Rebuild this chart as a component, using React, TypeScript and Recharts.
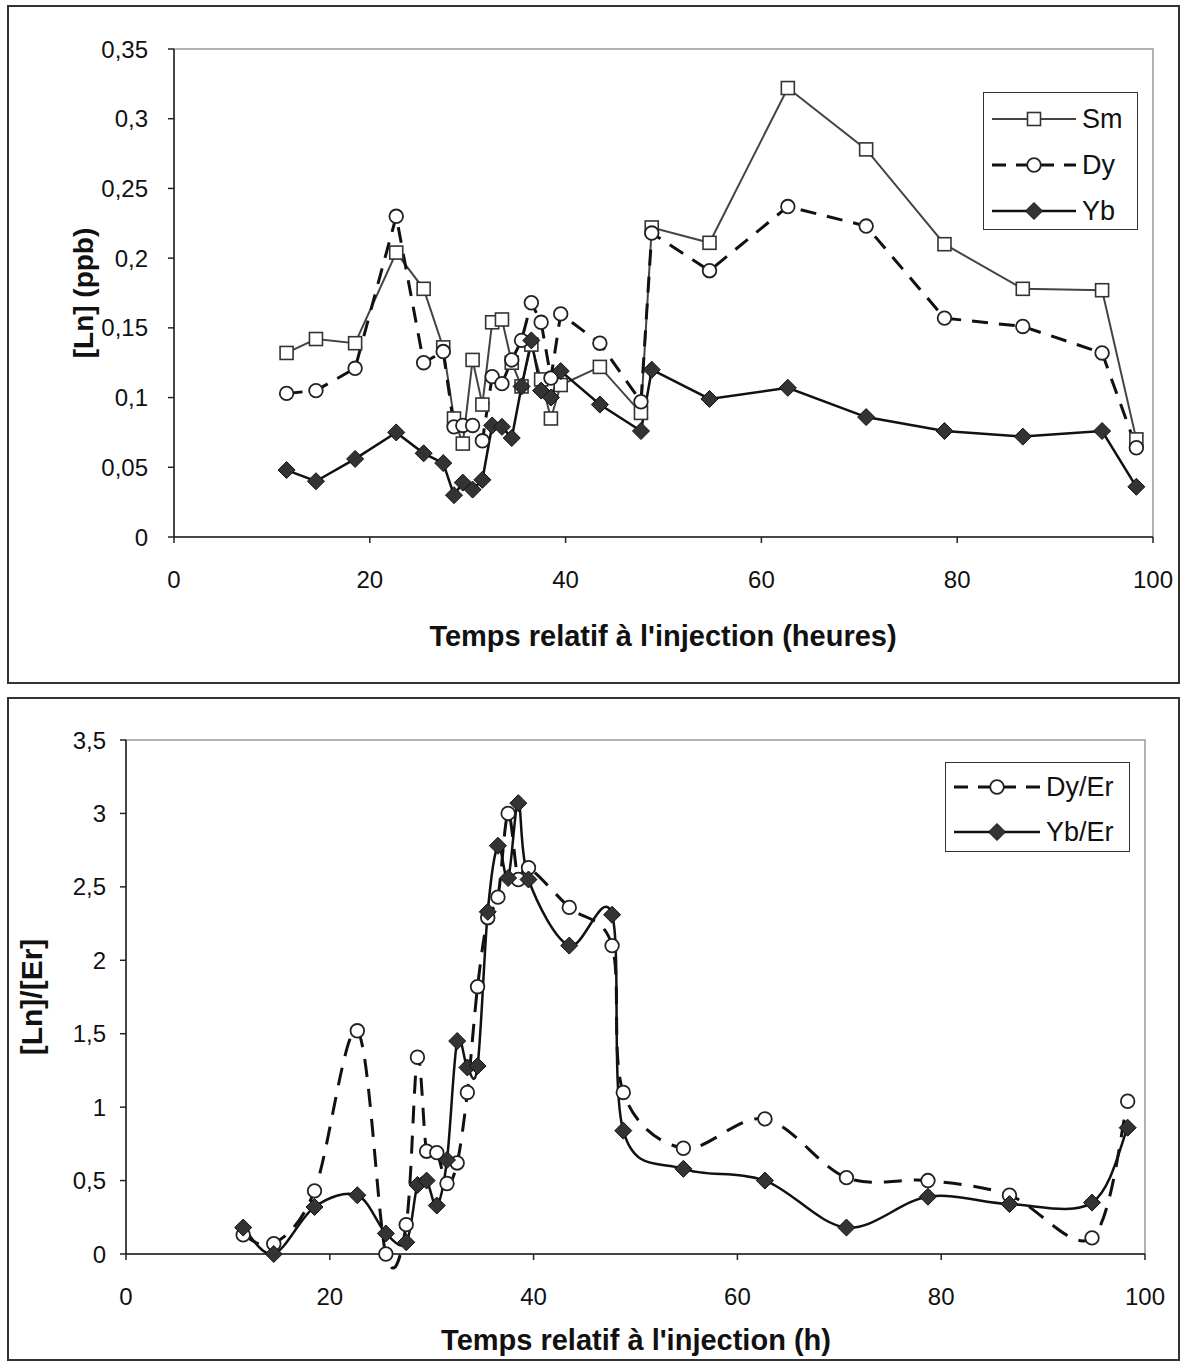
import React from "react";
import { LineChart, Line, XAxis, YAxis, ReferenceArea } from "recharts";

// sampling times (hours after injection)
const times = [
  11.5, 14.5, 18.5, 22.7, 25.5, 27.5, 28.6, 29.5, 30.5, 31.5, 32.5, 33.5, 34.5, 35.5,
  36.5, 37.5, 38.5, 39.5, 43.5, 47.7, 48.8, 54.7, 62.7, 70.7, 78.7, 86.7, 94.8, 98.3,
];

// top panel, ppb
const sm = [
  0.132, 0.142, 0.139, 0.204, 0.178, 0.136, 0.085, 0.067, 0.127, 0.095, 0.154, 0.156, 0.125, 0.108,
  0.138, 0.113, 0.085, 0.109, 0.122, 0.089, 0.222, 0.211, 0.322, 0.278, 0.21, 0.178, 0.177, 0.07,
];
const dy = [
  0.103, 0.105, 0.121, 0.23, 0.125, 0.133, 0.079, 0.08, 0.08, 0.069, 0.115, 0.11, 0.127, 0.141,
  0.168, 0.154, 0.114, 0.16, 0.139, 0.097, 0.218, 0.191, 0.237, 0.223, 0.157, 0.151, 0.132, 0.064,
];
const yb = [
  0.048, 0.04, 0.056, 0.075, 0.06, 0.053, 0.03, 0.039, 0.034, 0.041, 0.08, 0.079, 0.071, 0.108,
  0.141, 0.105, 0.1, 0.119, 0.095, 0.076, 0.12, 0.099, 0.107, 0.086, 0.076, 0.072, 0.076, 0.036,
];

// bottom panel, ratios to Er
const dyEr = [
  0.13, 0.07, 0.43, 1.52, 0.0, 0.2, 1.34, 0.7, 0.69, 0.48, 0.62, 1.1, 1.82, 2.29,
  2.43, 3.0, 2.55, 2.63, 2.36, 2.1, 1.1, 0.72, 0.92, 0.52, 0.5, 0.4, 0.11, 1.04,
];
const ybEr = [
  0.18, 0.0, 0.32, 0.4, 0.14, 0.08, 0.47, 0.5, 0.33, 0.64, 1.45, 1.27, 1.28, 2.33,
  2.78, 2.56, 3.07, 2.55, 2.1, 2.31, 0.84, 0.58, 0.5, 0.18, 0.39, 0.34, 0.35, 0.86,
];

const xTicks = [0, 20, 40, 60, 80, 100];
const topYTicks = [0, 0.05, 0.1, 0.15, 0.2, 0.25, 0.3, 0.35];
const bottomYTicks = [0, 0.5, 1, 1.5, 2, 2.5, 3, 3.5];

const topRows = times.map((t, i) => ({ t, sm: sm[i], dy: dy[i], yb: yb[i] }));
const bottomRows = times.map((t, i) => ({ t, dyEr: dyEr[i], ybEr: ybEr[i] }));

const FONT = "'Liberation Sans', Arial, sans-serif";
const comma = (v: number) => String(v).replace(".", ",");

// excel-like smoothing (catmull-rom through the points)
const smooth: any = (ctx: any) => {
  let pts: number[][] = [];
  return {
    areaStart() {},
    areaEnd() {},
    lineStart() {
      pts = [];
    },
    lineEnd() {
      const n = pts.length;
      if (!n) return;
      ctx.moveTo(pts[0][0], pts[0][1]);
      for (let i = 0; i < n - 1; i++) {
        const p0 = pts[i - 1] || pts[i];
        const p1 = pts[i];
        const p2 = pts[i + 1];
        const p3 = pts[i + 2] || p2;
        ctx.bezierCurveTo(
          p1[0] + (p2[0] - p0[0]) / 6,
          p1[1] + (p2[1] - p0[1]) / 6,
          p2[0] - (p3[0] - p1[0]) / 6,
          p2[1] - (p3[1] - p1[1]) / 6,
          p2[0],
          p2[1]
        );
      }
    },
    point(x: number, y: number) {
      pts.push([+x, +y]);
    },
  };
};

function Marker({ kind, cx, cy }: { kind: string; cx: number; cy: number }) {
  if (kind === "square")
    return <rect x={cx - 6.5} y={cy - 6.5} width={13} height={13} fill="#fff" stroke="#333" strokeWidth={1.6} />;
  if (kind === "circle") return <circle cx={cx} cy={cy} r={6.8} fill="#fff" stroke="#222" strokeWidth={1.8} />;
  return (
    <path
      d={`M${cx},${cy - 8.5}L${cx + 8.5},${cy}L${cx},${cy + 8.5}L${cx - 8.5},${cy}Z`}
      fill="#333"
      stroke="#111"
      strokeWidth={1}
    />
  );
}

const dotOf = (kind: string) => (props: any) => {
  const { cx, cy, index } = props;
  if (cx == null || cy == null) return <g key={index} />;
  return (
    <g key={index}>
      <Marker kind={kind} cx={cx} cy={cy} />
    </g>
  );
};

type LegendItem = { label: string; kind: string; stroke: string; width: number; dash?: string };

function LegendBox(props: {
  left: number;
  top: number;
  width: number;
  height: number;
  rowH: number;
  firstY: number;
  lineW: number;
  items: LegendItem[];
}) {
  const { left, top, width, height, rowH, firstY, lineW, items } = props;
  return (
    <div
      style={{
        position: "absolute",
        left,
        top,
        width,
        height,
        border: "1.5px solid #333",
        background: "#fff",
        boxSizing: "border-box",
      }}
    >
      {items.map((it, i) => (
        <div
          key={it.label}
          style={{
            position: "absolute",
            left: 8,
            top: firstY + i * rowH - 16,
            height: 32,
            display: "flex",
            alignItems: "center",
          }}
        >
          <svg width={lineW} height={24}>
            <line x1={0} x2={lineW} y1={12} y2={12} stroke={it.stroke} strokeWidth={it.width} strokeDasharray={it.dash} />
            <Marker kind={it.kind} cx={lineW / 2} cy={12} />
          </svg>
          <span style={{ fontSize: 27, marginLeft: 6, color: "#111" }}>{it.label}</span>
        </div>
      ))}
    </div>
  );
}

const frame = (top: number, height: number): React.CSSProperties => ({
  position: "absolute",
  left: 7,
  top,
  width: 1173,
  height,
  border: "2px solid #333",
  boxSizing: "border-box",
});

const title = (x: number, y: number, size: number, rotate = false): React.CSSProperties => ({
  position: "absolute",
  left: x,
  top: y,
  transform: `translate(-50%, -50%)${rotate ? " rotate(-90deg)" : ""}`,
  fontSize: size,
  fontWeight: "bold",
  whiteSpace: "nowrap",
  color: "#111",
});

const tickStyle = { fontSize: 24, fill: "#111", fontFamily: FONT };

export default function App() {
  return (
    <div
      style={{
        position: "absolute",
        left: 0,
        top: 0,
        width: 1185,
        height: 1367,
        background: "#fff",
        fontFamily: FONT,
        overflow: "hidden",
      }}
    >
      <div style={frame(5, 679)} />
      <div style={frame(697, 664)} />

      {/* top panel */}
      <div style={{ position: "absolute", left: 0, top: 0 }}>
        <LineChart width={1185} height={683} data={topRows} margin={{ top: 49, right: 32, bottom: 0, left: 0 }}>
          <ReferenceArea x1={0} x2={100} y1={0} y2={0.35} fill="none" stroke="#999" strokeWidth={1.5} />
          <XAxis
            dataKey="t"
            type="number"
            domain={[0, 100]}
            ticks={xTicks}
            interval={0}
            height={146}
            tickSize={6}
            tickMargin={28}
            tick={tickStyle}
            axisLine={{ stroke: "#222", strokeWidth: 1.5 }}
            tickLine={{ stroke: "#222", strokeWidth: 1.5 }}
          />
          <YAxis
            type="number"
            domain={[0, 0.35]}
            ticks={topYTicks}
            interval={0}
            width={174}
            tickSize={6}
            tickMargin={20}
            tickFormatter={comma}
            tick={tickStyle}
            axisLine={{ stroke: "#222", strokeWidth: 1.5 }}
            tickLine={{ stroke: "#222", strokeWidth: 1.5 }}
          />
          <Line dataKey="sm" type="linear" stroke="#444" strokeWidth={2} dot={dotOf("square")} activeDot={false} isAnimationActive={false} />
          <Line dataKey="dy" type="linear" stroke="#111" strokeWidth={3} strokeDasharray="16 11" dot={dotOf("circle")} activeDot={false} isAnimationActive={false} />
          <Line dataKey="yb" type="linear" stroke="#111" strokeWidth={2.5} dot={dotOf("diamond")} activeDot={false} isAnimationActive={false} />
        </LineChart>
      </div>
      <div style={title(663, 636, 29)}>Temps relatif à l'injection (heures)</div>
      <div style={title(84, 293, 28, true)}>[Ln] (ppb)</div>
      <LegendBox
        left={983}
        top={92}
        width={155}
        height={138}
        rowH={46}
        firstY={26}
        lineW={84}
        items={[
          { label: "Sm", kind: "square", stroke: "#444", width: 2 },
          { label: "Dy", kind: "circle", stroke: "#111", width: 3, dash: "14 10" },
          { label: "Yb", kind: "diamond", stroke: "#111", width: 2.5 },
        ]}
      />

      {/* bottom panel */}
      <div style={{ position: "absolute", left: 0, top: 697 }}>
        <LineChart width={1185} height={663} data={bottomRows} margin={{ top: 43, right: 40, bottom: 0, left: 0 }}>
          <ReferenceArea x1={0} x2={100} y1={0} y2={3.5} fill="none" stroke="#999" strokeWidth={1.5} />
          <XAxis
            dataKey="t"
            type="number"
            domain={[0, 100]}
            ticks={xTicks}
            interval={0}
            height={106}
            tickSize={6}
            tickMargin={28}
            tick={tickStyle}
            axisLine={{ stroke: "#222", strokeWidth: 1.5 }}
            tickLine={{ stroke: "#222", strokeWidth: 1.5 }}
          />
          <YAxis
            type="number"
            domain={[0, 3.5]}
            ticks={bottomYTicks}
            interval={0}
            width={126}
            tickSize={6}
            tickMargin={14}
            tickFormatter={comma}
            tick={tickStyle}
            axisLine={{ stroke: "#222", strokeWidth: 1.5 }}
            tickLine={{ stroke: "#222", strokeWidth: 1.5 }}
          />
          <Line dataKey="dyEr" type={smooth} stroke="#111" strokeWidth={3} strokeDasharray="18 12" dot={dotOf("circle")} activeDot={false} isAnimationActive={false} />
          <Line dataKey="ybEr" type={smooth} stroke="#111" strokeWidth={2.5} dot={dotOf("diamond")} activeDot={false} isAnimationActive={false} />
        </LineChart>
      </div>
      <div style={title(636, 1340, 29)}>Temps relatif à l'injection (h)</div>
      <div style={title(32, 997, 30, true)}>[Ln]/[Er]</div>
      <LegendBox
        left={945}
        top={762}
        width={185}
        height={90}
        rowH={45}
        firstY={24}
        lineW={86}
        items={[
          { label: "Dy/Er", kind: "circle", stroke: "#111", width: 3, dash: "14 10" },
          { label: "Yb/Er", kind: "diamond", stroke: "#111", width: 2.5 },
        ]}
      />
    </div>
  );
}
